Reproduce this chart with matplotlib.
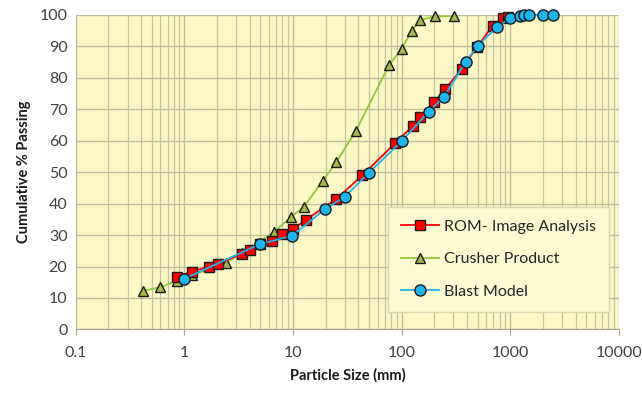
import matplotlib
matplotlib.use("Agg")
import matplotlib.pyplot as plt
from matplotlib.ticker import LogLocator, FixedLocator, NullFormatter
import numpy as np

plt.rcParams['font.family'] = ['Lato', 'DejaVu Sans']

# ROM - Image Analysis (red squares)
rom_size = [0.85, 1.18, 1.69, 2.04, 3.36, 4.0, 4.94, 6.34, 8.0, 10.0, 13.1,
            25.1, 43.5, 87.0, 128, 149, 199, 250, 356, 496, 687, 861, 951]
rom_pass = [16.8, 18.4, 20.0, 20.8, 24.0, 25.1, 27.1, 28.2, 30.3, 31.9, 34.8,
            41.5, 49.0, 59.2, 64.8, 67.6, 72.2, 76.4, 82.7, 89.9, 96.5, 98.9, 99.5]

# Crusher Product (green triangles)
crusher_size = [0.42, 0.60, 0.85, 1.18, 2.4, 3.36, 6.65, 9.55, 12.6, 18.7,
                25.1, 37.9, 76.7, 100, 124, 149, 202, 303]
crusher_pass = [12.3, 13.4, 15.4, 17.2, 21.2, 24.2, 30.9, 35.7, 39.0, 47.2,
                53.3, 63.1, 84.1, 89.3, 95.0, 98.4, 99.6, 99.6]

# Blast Model (blue circles)
blast_size = [1.0, 4.94, 9.85, 19.6, 30, 49.9, 101, 177, 246, 390, 500, 748,
              991, 1225, 1350, 1483, 1982, 2485]
blast_pass = [16.1, 27.1, 29.8, 38.2, 42.2, 49.8, 60.0, 69.2, 74.0, 85.2, 90.1,
              96.1, 98.9, 99.7, 100, 100, 100, 100]

x_ticks = [0.1, 1, 10, 100, 1000, 10000]
x_tick_labels = ['0.1', '1', '10', '100', '1000', '10000']
y_ticks = list(range(0, 101, 10))

fig = plt.figure(figsize=(6.42, 3.94), dpi=100)
ax = fig.add_axes([0.118, 0.164, 0.846, 0.798])
ax.set_facecolor('#FBF8C6')

ax.plot(rom_size, rom_pass, color='#FF0000', lw=1.3, marker='s', ms=7.5,
        mfc='#FF0000', mec='#1A1A1A', mew=1.0, label='ROM- Image Analysis',
        zorder=4, clip_on=False)
ax.plot(crusher_size, crusher_pass, color='#92C83E', lw=1.3, marker='^', ms=7.5,
        mfc='#A6B84A', mec='#1A1A1A', mew=1.0, label='Crusher Product',
        zorder=3, clip_on=False)
ax.plot(blast_size, blast_pass, color='#1EB4EC', lw=1.3, marker='o', ms=8,
        mfc='#1EB4EC', mec='#1A1A1A', mew=1.0, label='Blast Model',
        zorder=5, clip_on=False)

ax.set_xscale('log')
ax.set_xlim(0.1, 10000)
ax.set_ylim(0, 100)
ax.xaxis.set_major_locator(FixedLocator(x_ticks))
ax.set_xticklabels(x_tick_labels)
ax.xaxis.set_minor_locator(LogLocator(base=10, subs=np.arange(2, 10), numticks=20))
ax.xaxis.set_minor_formatter(NullFormatter())
ax.set_yticks(y_ticks)

ax.grid(True, which='major', color='#C2BB9C', lw=1.0)
ax.grid(True, which='minor', axis='x', color='#C9C3A3', lw=0.9)
ax.set_axisbelow(True)

for s in ['top', 'right']:
    ax.spines[s].set_visible(False)
ax.spines['left'].set_color('#BDB7A0')
ax.spines['bottom'].set_color('#A8A390')
ax.tick_params(axis='y', length=0, labelsize=11.5, colors='#404040', pad=6)
ax.tick_params(axis='x', which='major', length=4, color='#A8A390',
               labelsize=11.5, labelcolor='#404040', pad=8)
ax.tick_params(axis='x', which='minor', length=0)

ax.set_xlabel('Particle Size (mm)', fontsize=10.5, fontweight='bold',
              color='#1A1A1A', labelpad=6)
ax.set_ylabel('Cumulative % Passing', fontsize=10.5, fontweight='bold',
              color='#1A1A1A', labelpad=6)

leg = ax.legend(loc='upper left', bbox_to_anchor=(0.56, 0.415), fontsize=11.5,
                frameon=True, fancybox=False, handlelength=2.4,
                labelspacing=1.15, borderpad=0.8, handletextpad=0.3)
leg.get_frame().set_facecolor('#FCFAD2')
leg.get_frame().set_edgecolor('#DAD6B0')
leg.get_frame().set_alpha(1.0)
leg.set_zorder(6)
for t in leg.get_texts():
    t.set_color('#262626')

fig.savefig('out.png', dpi=100)
